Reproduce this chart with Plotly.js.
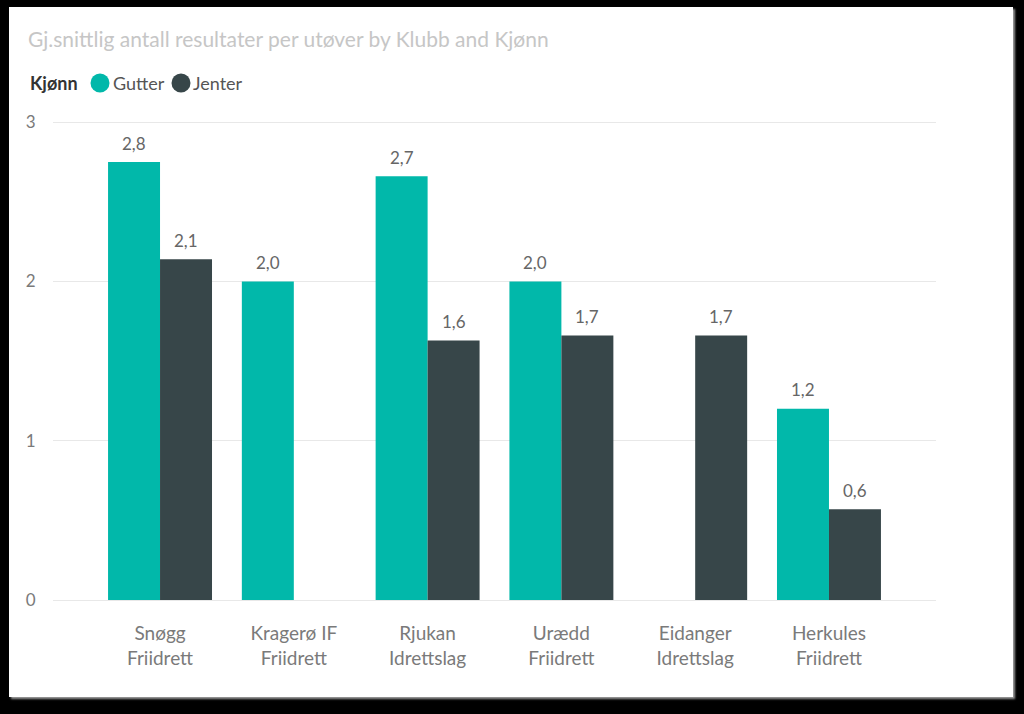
<!DOCTYPE html>
<html>
<head>
<meta charset="utf-8">
<script src="https://cdn.plot.ly/plotly-3.0.1.min.js"></script>
<style>
  html, body { margin: 0; padding: 0; background: #000; width: 1024px; height: 714px; overflow: hidden; }
  #panel { position: absolute; left: 9px; top: 7px; width: 1004px; height: 690px; background: #fff;
           box-shadow: 2px 2px 2px #9a9a9a; }
  #chart { width: 1004px; height: 690px; }
</style>
</head>
<body>
<div id="panel"><div id="chart"></div></div>
<script>
const clubs = ["Snøgg<br>Friidrett", "Kragerø IF<br>Friidrett", "Rjukan<br>Idrettslag", "Urædd<br>Friidrett", "Eidanger<br>Idrettslag", "Herkules<br>Friidrett"];
const gutter = [2.75, 2.0, 2.66, 2.0, null, 1.20];
const jenter = [2.14, null, 1.63, 1.66, 1.66, 0.57];
const seriesNames = ["Gutter", "Jenter"];
const legendTitle = "Kjønn";
const colors = ["#01B8AA", "#374649"];
const yTicks = [0, 1, 2, 3];

const FONT = "Lato, 'Open Sans', sans-serif";
const W = 1004, H = 690;
const margin = {l: 44, r: 77, t: 112, b: 97, pad: 0};
const xRange = [-0.8, 5.8];
const yRange = [0, 3.02];
const bargap = 0.223;
const plotW = W - margin.l - margin.r;
const plotH = H - margin.t - margin.b;
// helpers: panel pixel -> paper coords (for legend decorations)
const px2x = p => (p - margin.l) / plotW;
const px2y = p => 1 - (p - margin.t) / plotH;

const series = [gutter, jenter];
const traces = series.map((vals, i) => ({
  type: "bar", x: clubs, y: vals, name: seriesNames[i],
  marker: {color: colors[i]}, showlegend: false, hoverinfo: "skip"
}));

// value labels
const pxPerCat = plotW / (xRange[1] - xRange[0]);
const barW = pxPerCat * (1 - bargap) / 2;
const annotations = [];
series.forEach((vals, i) => {
  vals.forEach((v, j) => {
    if (v === null) return;
    annotations.push({
      x: clubs[j], y: v, xref: "x", yref: "y",
      text: v.toFixed(1).replace(".", ","),
      showarrow: false, xshift: (i === 0 ? -1 : 1) * barW / 2, yshift: 19,
      yanchor: "middle", xanchor: "center",
      font: {family: FONT, size: 17, color: "#666666"}
    });
  });
});

// custom legend (Power BI style: bold title + circle markers)
const legY = 76;
const shapes = [];
annotations.push({
  xref: "paper", yref: "paper", x: px2x(19), y: px2y(legY), xanchor: "left", yanchor: "middle",
  showarrow: false, text: "<b>" + legendTitle + "</b>",
  font: {family: FONT, size: 18, color: "#333333"}
});
const legItems = [{c: 91, t: 102}, {c: 172, t: 182}];
seriesNames.forEach((nm, i) => {
  shapes.push({
    type: "circle", xref: "paper", yref: "paper", xsizemode: "pixel", ysizemode: "pixel",
    xanchor: px2x(legItems[i].c), yanchor: px2y(legY),
    x0: -9.5, x1: 9.5, y0: -9.5, y1: 9.5,
    fillcolor: colors[i], line: {width: 0}
  });
  annotations.push({
    xref: "paper", yref: "paper", x: px2x(legItems[i].t), y: px2y(legY), xanchor: "left", yanchor: "middle",
    showarrow: false, text: nm,
    font: {family: FONT, size: 18, color: "#555555"}
  });
});

const layout = {
  width: W, height: H, margin: margin,
  paper_bgcolor: "rgba(0,0,0,0)", plot_bgcolor: "rgba(0,0,0,0)",
  barmode: "group", bargap: bargap, bargroupgap: 0,
  separators: ", ",
  font: {family: FONT, color: "#777777"},
  title: {
    text: "Gj.snittlig antall resultater per utøver by Klubb and Kjønn",
    xref: "container", yref: "container", x: 19 / W, xanchor: "left",
    y: 1 - 33 / H, yanchor: "middle",
    font: {family: FONT, size: 21, color: "#c6c6c6"}
  },
  showlegend: false,
  xaxis: {
    type: "category", range: xRange, showgrid: false, zeroline: false, showline: false,
    ticks: "outside", ticklen: 16, tickcolor: "rgba(0,0,0,0)",
    tickfont: {family: FONT, size: 19, color: "#7a7a7a"}, fixedrange: true
  },
  yaxis: {
    range: yRange, tickvals: yTicks, ticktext: yTicks.map(String),
    showgrid: true, gridcolor: "#e8e8e8", gridwidth: 1,
    zeroline: true, zerolinecolor: "#e8e8e8", zerolinewidth: 1, showline: false,
    ticks: "outside", ticklen: 13, tickcolor: "rgba(0,0,0,0)",
    tickfont: {family: FONT, size: 17, color: "#7a7a7a"}, fixedrange: true
  },
  annotations: annotations,
  shapes: shapes
};

Plotly.newPlot("chart", traces, layout, {displayModeBar: false, staticPlot: true});
</script>
</body>
</html>
